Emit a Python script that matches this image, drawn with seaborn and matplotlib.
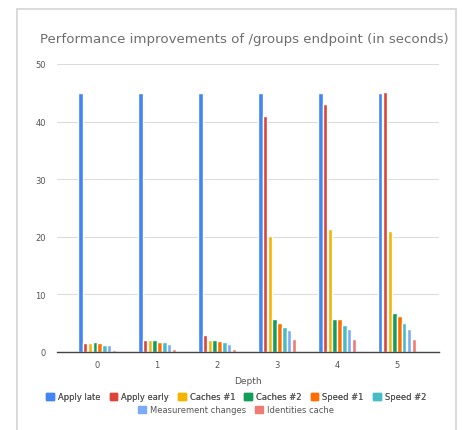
import matplotlib
matplotlib.use("Agg")
import matplotlib.pyplot as plt
from matplotlib.patches import Patch, Rectangle
import seaborn as sns
import pandas as pd

# values (seconds)
depths = ["0", "1", "2", "3", "4", "5"]
series = ["Apply late", "Apply early", "Caches #1", "Caches #2",
          "Speed #1", "Speed #2", "Measurement changes", "Identities cache"]
apply_late = [45, 45, 45, 45, 45, 45]
apply_early = [1.5, 2.0, 3.0, 41.0, 43.1, 45.1]
caches_1 = [1.6, 2.1, 2.1, 20.2, 21.3, 21.0]
caches_2 = [1.7, 2.1, 2.1, 5.8, 5.8, 6.8]
speed_1 = [1.5, 1.8, 1.85, 5.1, 5.8, 6.3]
speed_2 = [1.2, 1.7, 1.8, 4.35, 4.75, 5.1]
measurement = [1.2, 1.45, 1.45, 3.8, 4.05, 4.05]
identities = [0.3, 0.6, 0.5, 2.2, 2.2, 2.2]
colors = ["#4285F4", "#DB4437", "#F4B400", "#0F9D58",
          "#FF6D00", "#46BDC6", "#7BAAF7", "#F07B72"]

values = [apply_late, apply_early, caches_1, caches_2,
          speed_1, speed_2, measurement, identities]
rows = []
for name, vals in zip(series, values):
    for d, v in zip(depths, vals):
        rows.append({"Depth": d, "Series": name, "Seconds": v})
df = pd.DataFrame(rows)

sns.set_style("white")
fig = plt.figure(figsize=(4.63, 4.31), dpi=100)
fig.patches.append(Rectangle((17 / 463, -0.05), 439 / 463, 1 - 10 / 431 + 0.05,
                             transform=fig.transFigure, fill=False,
                             edgecolor="#d4d4d4", linewidth=1.2))
ax = fig.add_axes([57 / 463, 1 - 353 / 431, 382 / 463, 288 / 431])

sns.barplot(data=df, x="Depth", y="Seconds", hue="Series", order=depths,
            hue_order=series, palette=colors, width=0.64, gap=0.06,
            saturation=1, legend=False, ax=ax)

ax.set_ylim(0, 50)
ax.set_xlim(-0.67, 5.7)
ax.set_yticks([0, 10, 20, 30, 40, 50])
ax.grid(axis="y", color="#dcdcdc", linewidth=0.8)
ax.set_axisbelow(True)
for s in ["top", "right", "left"]:
    ax.spines[s].set_visible(False)
ax.spines["bottom"].set_color("#444444")
ax.spines["bottom"].set_linewidth(1.0)
ax.tick_params(length=0, labelsize=6, labelcolor="#555555")
ax.tick_params(axis="y", pad=8)
ax.tick_params(axis="x", pad=6)
ax.set_ylabel("")
ax.set_xlabel("Depth", fontsize=6.5, color="#555555", labelpad=5)

fig.text(40 / 463, 1 - 40 / 431,
         "Performance improvements of /groups endpoint (in seconds)",
         fontsize=9.6, color="#6e6e6e", va="center", ha="left")

handles = [Patch(facecolor=c, edgecolor=c) for c in colors]
leg1 = fig.legend(handles[:6], series[:6], loc="center",
                  bbox_to_anchor=(0.51, 1 - 398 / 431), ncol=6, frameon=False,
                  fontsize=6, handlelength=0.9, handleheight=0.9,
                  handletextpad=0.5, columnspacing=1.1, labelcolor="#555555")
leg2 = fig.legend(handles[6:], series[6:], loc="center",
                  bbox_to_anchor=(0.51, 1 - 411 / 431), ncol=2, frameon=False,
                  fontsize=6, handlelength=0.9, handleheight=0.9,
                  handletextpad=0.5, columnspacing=1.1, labelcolor="#555555")
fig.add_artist(leg1)

fig.savefig("out.png", dpi=100)
